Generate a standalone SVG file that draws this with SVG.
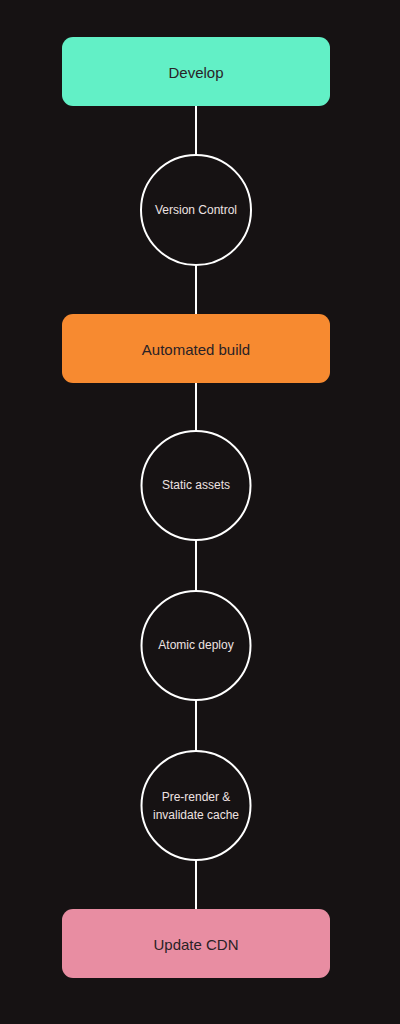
<svg xmlns="http://www.w3.org/2000/svg" width="400" height="1024" viewBox="0 0 400 1024">
<style>
.box text{font-family:"Liberation Sans",Arial,sans-serif;font-size:15px;fill:#2a2226;text-anchor:middle;dominant-baseline:central}
.circ circle{fill:#161213;stroke:#ffffff;stroke-width:2}
.circ text{font-family:"Liberation Sans",Arial,sans-serif;font-size:12px;fill:#eee2e2;text-anchor:middle;dominant-baseline:central}
#connectors line{stroke:#ffffff;stroke-width:2}
</style>
<rect width="400" height="1024" fill="#161213"/>
<g id="connectors">
<line x1="196" y1="106" x2="196" y2="155"/>
<line x1="196" y1="265" x2="196" y2="314"/>
<line x1="196" y1="383" x2="196" y2="431"/>
<line x1="196" y1="540" x2="196" y2="591"/>
<line x1="196" y1="700" x2="196" y2="751"/>
<line x1="196" y1="860" x2="196" y2="909"/>
</g>
<g id="develop" class="box"><rect x="62" y="37" width="268" height="69" rx="11" fill="#62f0c6"/><text x="196" y="72">Develop</text></g>
<g id="version-control" class="circ"><circle cx="196" cy="210" r="55"/><text x="196" y="210">Version Control</text></g>
<g id="automated-build" class="box"><rect x="62" y="314" width="268" height="69" rx="11" fill="#f78a30"/><text x="196" y="349">Automated build</text></g>
<g id="static-assets" class="circ"><circle cx="196" cy="485.5" r="54.5"/><text x="196" y="485">Static assets</text></g>
<g id="atomic-deploy" class="circ"><circle cx="196" cy="645.5" r="54.5"/><text x="196" y="645">Atomic deploy</text></g>
<g id="pre-render" class="circ"><circle cx="196" cy="805.5" r="54.5"/><text x="196" y="797">Pre-render &amp;</text><text x="196" y="815">invalidate cache</text></g>
<g id="update-cdn" class="box"><rect x="62" y="909" width="268" height="69" rx="11" fill="#e88da2"/><text x="196" y="944">Update CDN</text></g>
</svg>
